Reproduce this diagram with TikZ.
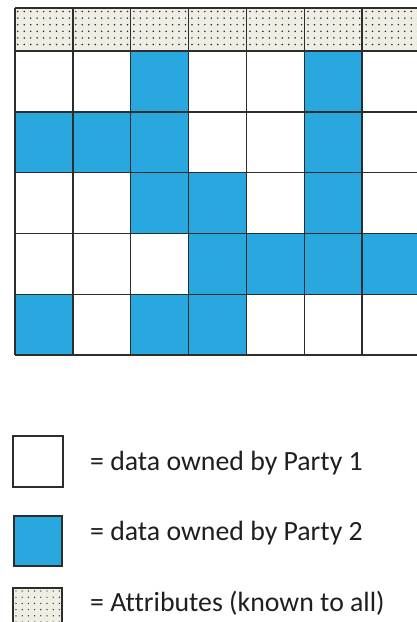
\documentclass[tikz,border=0pt]{standalone}
\usepackage{fontspec}
\setmainfont{Carlito}[Ligatures=NoCommon]
\definecolor{pblue}{RGB}{41,168,224}
\definecolor{attr}{RGB}{240,238,228}
\definecolor{gridc}{RGB}{45,45,45}
\begin{document}
\begin{tikzpicture}[x=1pt,y=-1pt,
  cellline/.style={draw=gridc,line width=1.4pt},
  bluecell/.style={fill=pblue},
  attrfill/.style={fill=attr},
  dot/.style={fill=black!85},
  legtext/.style={anchor=base west,inner sep=0pt,font=\fontsize{27.8}{30}\selectfont,text=black!88}]
\clip (0,0) rectangle (417,622);
\fill[white] (0,0) rectangle (417,622);
% header (attributes)
\fill[attrfill] (15,8) rectangle (420,51);
\foreach \i in {0,...,63}{
  \foreach \j in {0,...,5}{
    \fill[dot] ({17.8+\i*6.45},{11.5+\j*6.6}) circle (0.85);
  }
}
% blue cells
\foreach \r/\c in {1/2,1/5,2/0,2/1,2/2,2/5,3/2,3/3,3/5,4/3,4/4,4/5,4/6,5/0,5/2,5/3}{
  \fill[bluecell] ({15+\c*57.86},{51+(\r-1)*60.8}) rectangle ({15+(\c+1)*57.86},{51+\r*60.8});
}
% grid lines
\foreach \k in {0,...,5}{
  \draw[cellline] (15,{51+\k*60.8}) -- (420,{51+\k*60.8});
}
\draw[cellline] (15,8) -- (420,8);
\foreach \c in {0,...,7}{
  \draw[cellline] ({15+\c*57.86},8) -- ({15+\c*57.86},355);
}
% legend
\draw[cellline,fill=white] (13,436) rectangle (63,487);
\draw[cellline,bluecell] (14,516) rectangle (62,566);
\fill[attrfill] (13,588) rectangle (62,630);
\foreach \i in {0,...,7}{
  \foreach \j in {0,...,6}{
    \fill[dot] ({16+\i*6.2},{591+\j*6.2}) circle (0.7);
  }
}
\draw[cellline] (13,630) -- (13,588) -- (62,588) -- (62,630);
\node[legtext] (t1) at (90,470.5) {= data owned by Party 1};
\node[legtext] (t2) at (90,540) {= data owned by Party 2};
\node[legtext] (t3) at (90,611.5) {= Attributes (known to all)};
\end{tikzpicture}
\end{document}
